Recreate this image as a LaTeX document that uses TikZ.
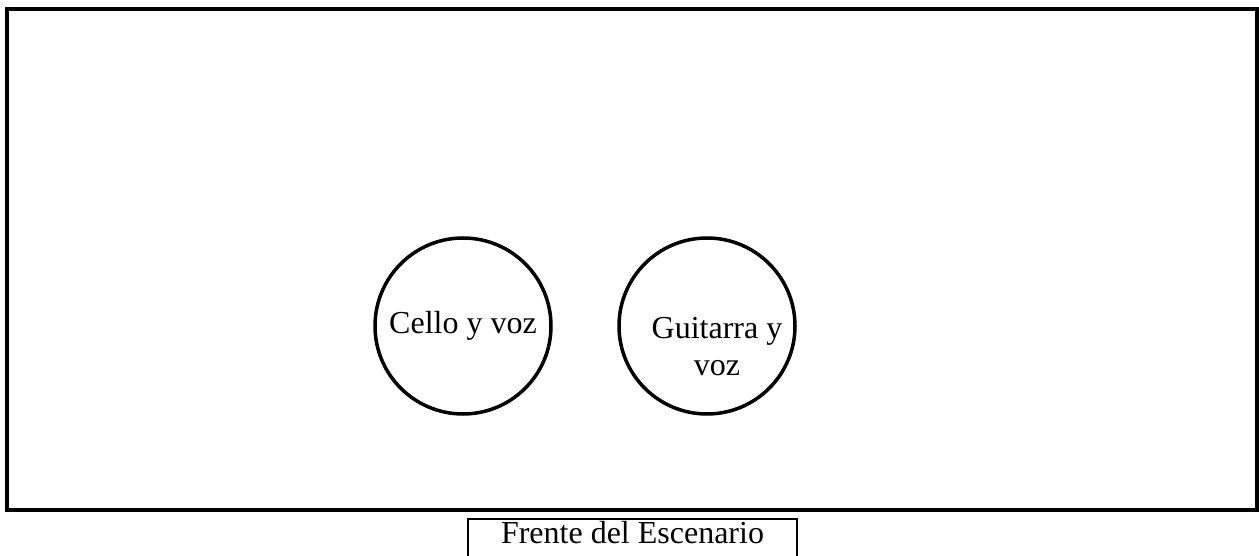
\documentclass[tikz,border=0pt]{standalone}
\usepackage{fontspec}
\setmainfont{Liberation Serif}
\tikzset{
  stagebox/.style={line width=4pt},
  seat/.style={circle, draw, line width=3.5pt, minimum size=176pt, inner sep=0pt,
    font=\fontsize{32}{37}\selectfont},
  lbl/.style={font=\fontsize{32}{37}\selectfont, align=center, inner sep=0pt}
}
\begin{document}
\begin{tikzpicture}[x=1pt,y=1pt]
        \useasboundingbox (0,0) rectangle (1259,555);

        % escenario
        \draw[stagebox] (7,546) rectangle (1257,45);

        % musicos
        \node[seat] (cello) at (463,229) {Cello y voz};
        \node[seat] (guitarra) at (707,229) {};
        \node[lbl] (guitarratxt) at (717,208) {Guitarra y\\voz};

        % frente
        \draw[line width=2pt] (468,-10) rectangle (797,36);
        \node[lbl, anchor=base] (frente) at (632.5,12) {Frente del Escenario};
    \end{tikzpicture}
\end{document}
